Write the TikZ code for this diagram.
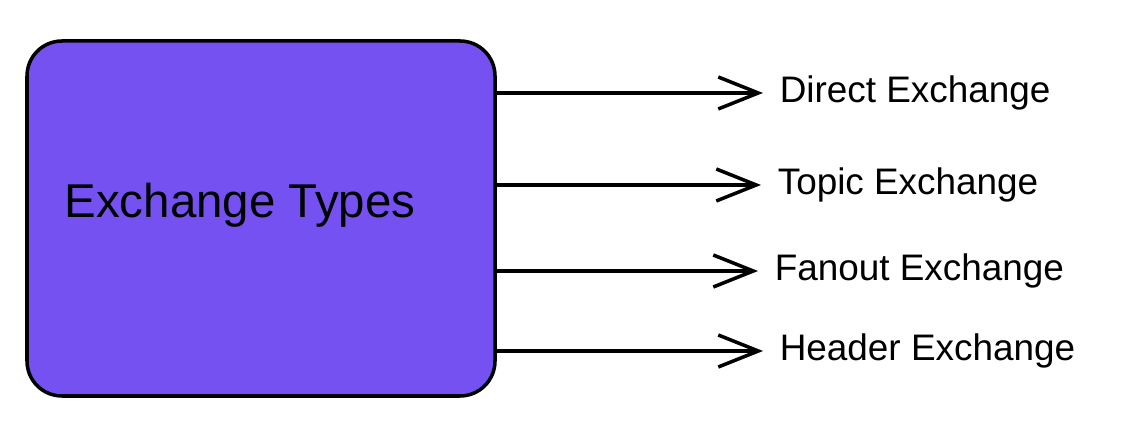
\documentclass[tikz,border=0pt]{standalone}
\usepackage{fontspec}
\setmainfont{Liberation Sans}
\usetikzlibrary{arrows.meta}
\definecolor{boxpurple}{HTML}{7551F2}
\begin{document}
\begin{tikzpicture}[line width=2pt,
	typebox/.style = {draw, fill=boxpurple, rounded corners=0.7cm, minimum width=9.36cm, minimum height=7.1cm},
	title/.style = {font=\fontsize{27}{32}\selectfont},
	kind/.style = {anchor=west, inner sep=0.3cm, font=\fontsize{21}{25}\selectfont},
	link/.style = {-{Straight Barb[length=0.8cm, width=0.64cm, line width=2pt]}}]

		\useasboundingbox (0,0) rectangle (22.64,-8.5);

		\node[typebox] (types) at (5.22,-4.37) {};
		\node[title] (name) at (4.8,-4.1) {Exchange Types};

		\node[kind] (direct) at (15.26,-1.86) {Direct Exchange};
		\node[kind] (topic) at (15.22,-3.70) {Topic Exchange};
		\node[kind] (fanout) at (15.16,-5.42) {Fanout Exchange};
		\node[kind] (header) at (15.26,-7.02) {Header Exchange};

		\draw[link] (types.east |- direct.west) -- (direct.west);
		\draw[link] (types.east |- topic.west) -- (topic.west);
		\draw[link] (types.east |- fanout.west) -- (fanout.west);
		\draw[link] (types.east |- header.west) -- (header.west);
	\end{tikzpicture}
\end{document}
